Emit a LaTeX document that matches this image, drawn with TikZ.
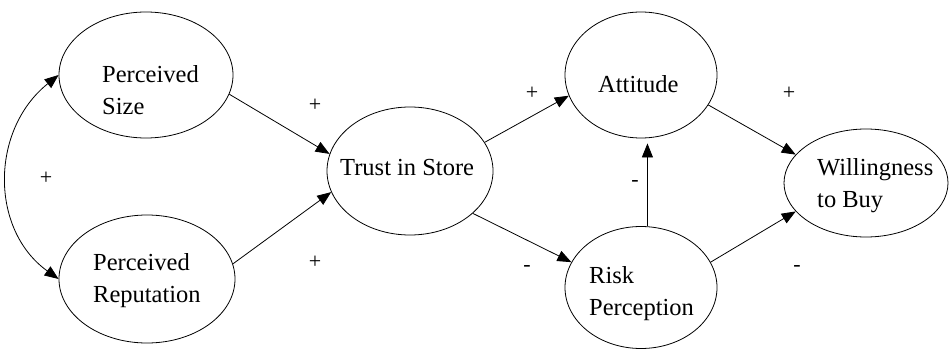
\documentclass[tikz,border=0pt]{standalone}
\usepackage{fontspec}
\setmainfont{Liberation Serif}
\usetikzlibrary{shapes.geometric,arrows.meta}
\begin{document}
\begin{tikzpicture}[x=1pt,y=-1pt,
  oval/.style={draw,ellipse,inner sep=0pt,line width=0.8pt},
  lbl/.style={anchor=base west,inner sep=0pt,align=left,font=\fontsize{24.5}{32}\selectfont},
  sgn/.style={inner sep=0pt,font=\fontsize{22}{24}\selectfont},
  arr/.style={line width=0.8pt,-{Triangle[length=14pt,width=11pt]}},
  barr/.style={line width=0.8pt,{Triangle[length=14pt,width=11pt]}-{Triangle[length=14pt,width=11pt]}}]
\useasboundingbox (0,0) rectangle (949,350);
% ellipses
\node[oval,minimum width=174pt,minimum height=126pt] (size) at (146,75) {};
\node[oval,minimum width=176pt,minimum height=128pt] (rep) at (147,279) {};
\node[oval,minimum width=166pt,minimum height=128pt] (trust) at (410,171) {};
\node[oval,minimum width=152pt,minimum height=126pt] (att) at (641,75) {};
\node[oval,minimum width=152pt,minimum height=122pt] (risk) at (641,287.5) {};
\node[oval,minimum width=164pt,minimum height=108pt] (will) at (866,183) {};
% texts (base = baseline of last line)
\node[lbl] (sizeT) at (102,114) {Perceived\\Size};
\node[lbl] (repT) at (93,302) {Perceived\\Reputation};
\node[lbl] (trustT) at (340,175) {Trust in Store};
\node[lbl] (attT) at (598,93) {Attitude};
\node[lbl] (riskT) at (589,315) {Risk\\Perception};
\node[lbl] (willT) at (817,207) {Willingness\\to Buy};
% connectors
\draw[barr] (size.west) .. controls (-10,130) and (-10,230) .. (rep.west);
\draw[arr] (size.-13) -- (trust.168);
\draw[arr] (rep.10) -- (trust.-165.5);
\draw[arr] (trust.21.7) -- (att.-164);
\draw[arr] (trust.-34.7) -- (risk.160);
\draw[arr,shorten >=5pt] (risk.84) -- (risk.84 |- att.south);
\draw[arr] (att.-24.6) -- (will.158.5);
\draw[arr] (risk.20) -- (will.-158.5);
% signs
\node[sgn] (s1) at (46,178) {+};
\node[sgn] (s2) at (315,105) {+};
\node[sgn] (s3) at (315,262) {+};
\node[sgn] (s4) at (532,93) {+};
\node[sgn] (s5) at (789,93) {+};
\node[sgn] (s6) at (527,268) {-};
\node[sgn] (s7) at (635,183) {-};
\node[sgn] (s8) at (797,268) {-};
\end{tikzpicture}
\end{document}
